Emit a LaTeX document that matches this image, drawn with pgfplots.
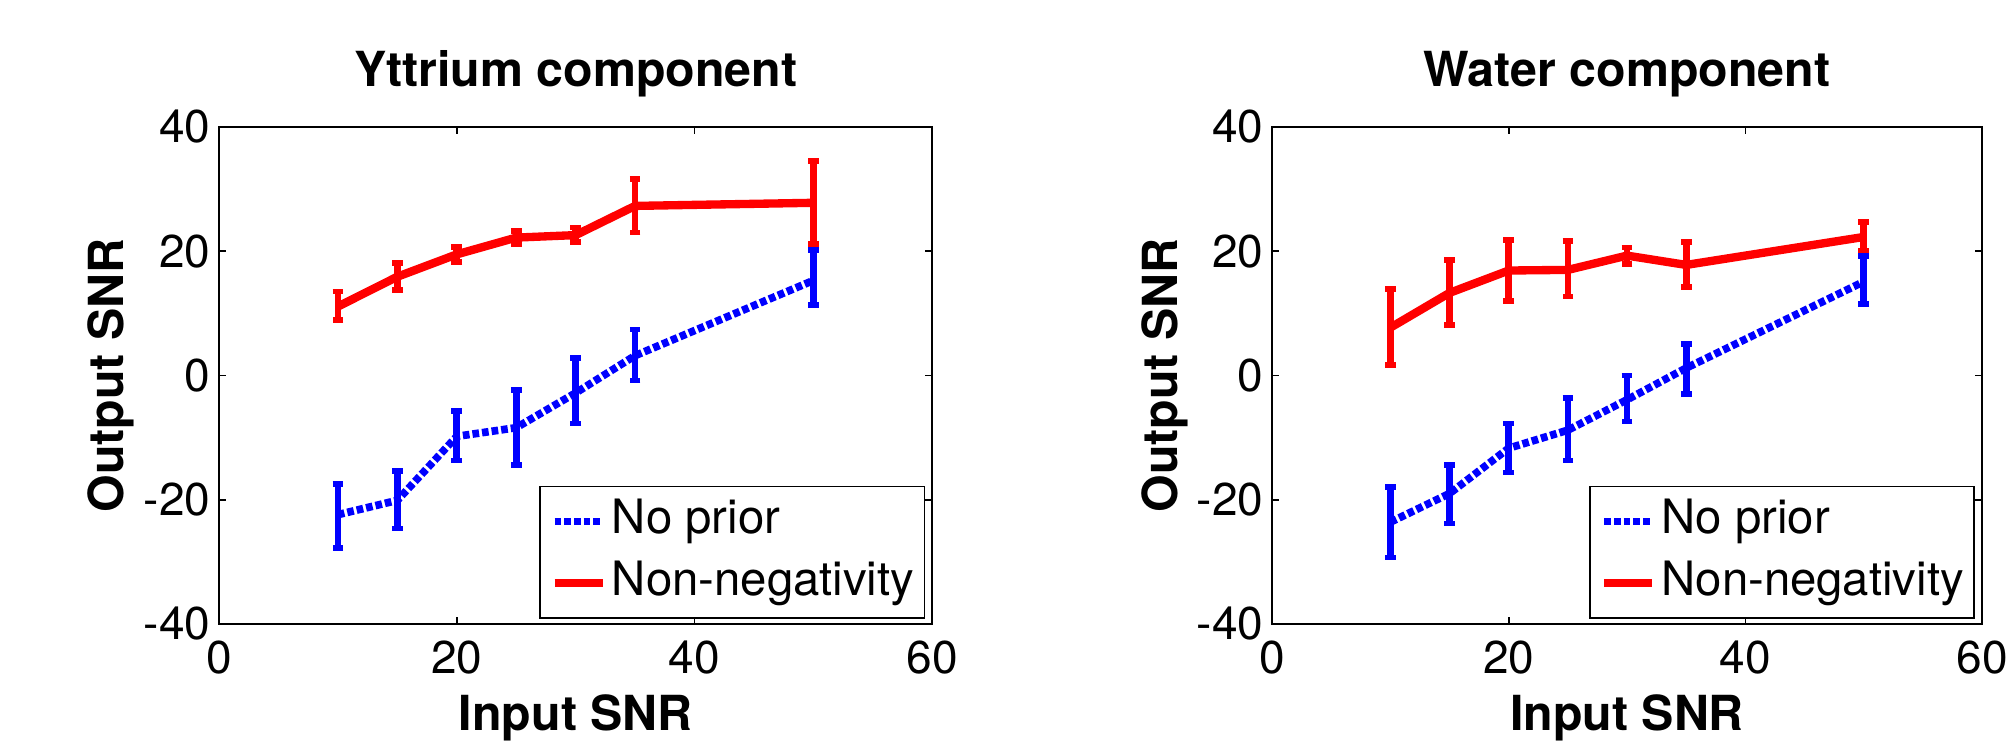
\documentclass[border=0pt]{standalone}
\usepackage{pgfplots}
\pgfplotsset{compat=1.18}
\usepackage{fontspec}
\setmainfont{TeX Gyre Heros}
\definecolor{mred}{RGB}{255,0,0}
\definecolor{mblue}{RGB}{0,0,255}

\pgfplotsset{
  snr/.style={
    scale only axis, width=214pt, height=149.1pt,
    xmin=0, xmax=60, ymin=-40, ymax=40,
    xtick={0,20,40,60}, xticklabels={0,20,40,60},
    ytick={-40,-20,0,20,40}, yticklabels={-40,-20,0,20,40},
    tick align=inside, major tick length=2.1pt,
    axis line style={line width=0.5pt},
    every tick/.style={black, line width=0.5pt},
    tick label style={font=\fontsize{13.8}{16}\selectfont},
    yticklabel style={inner xsep=2.4pt},
    xticklabel style={inner ysep=5pt},
    % cancel the default 6pt title shift
    title style={font=\fontsize{14.5}{17}\bfseries, at={(axis description cs:0.5,1.0812)}, anchor=base, yshift=-6pt},
    xlabel={Input SNR}, ylabel={Output SNR},
    xlabel style={font=\fontsize{14.5}{17}\bfseries, at={(axis description cs:0.5,-0.2133)}, anchor=base},
    ylabel style={font=\fontsize{14.5}{17}\bfseries, at={(axis description cs:-0.1332,0.5)}, anchor=base},
    legend style={at={(axis description cs:1,0)}, anchor=south east, xshift=-2.1pt, yshift=1.6pt,
      draw=black, line width=0.5pt, font=\fontsize{14.2}{17}\selectfont,
      inner xsep=3.1pt, inner ysep=3.2pt, row sep=4pt, column sep=1.5pt,
      nodes={inner sep=0pt, text height=11pt, text depth=3.5pt}},
    legend cell align=left,
    legend image code/.code={\draw[#1] (0pt,0pt) -- (14.4pt,0pt);},
  },
  nop/.style={mblue, line width=2.3pt, dash pattern=on 2pt off 0.9pt, no markers,
    error bars/.cd, y dir=both, y explicit,
    error bar style={line width=2pt, solid},
    error mark options={line width=1.7pt, mark size=1.6pt, rotate=90, solid}},
  nng/.style={mred, line width=2.5pt, no markers,
    error bars/.cd, y dir=both, y explicit,
    error bar style={line width=2pt, solid},
    error mark options={line width=1.7pt, mark size=1.6pt, rotate=90, solid}},
}

\begin{document}
\begin{tikzpicture}[x=1pt,y=1pt]
\begin{axis}[snr, at={(65.7pt,-187.2pt)}, anchor=south west, title={Yttrium component}]
\addplot[nop] coordinates {
  (10,-22.4) += (0,4.9) -= (0,5.4)
  (15,-20.1) += (0,4.7) -= (0,4.5)
  (20,-9.8)  += (0,4.1) -= (0,3.9)
  (25,-8.4)  += (0,6.1) -= (0,6.0)
  (30,-2.8)  += (0,5.6) -= (0,4.9)
  (35,3.2)   += (0,4.2) -= (0,4.0)
  (50,15.3)  += (0,4.9) -= (0,4.0)
};
\addlegendentry{No prior}
\addplot[nng] coordinates {
  (10,11.1) += (0,2.4) -= (0,2.2)
  (15,15.9) += (0,2.2) -= (0,2.1)
  (20,19.5) += (0,1.2) -= (0,1.2)
  (25,22.2) += (0,1.1) -= (0,1.0)
  (30,22.6) += (0,1.2) -= (0,1.1)
  (35,27.3) += (0,4.3) -= (0,4.3)
  (50,27.8) += (0,6.7) -= (0,6.6)
};
\addlegendentry{Non-negativity}
\end{axis}
\begin{axis}[snr, width=213pt, at={(381.6pt,-187.2pt)}, anchor=south west, title={Water component}]
\addplot[nop] coordinates {
  (10,-23.6) += (0,5.7) -= (0,5.7)
  (15,-19.0) += (0,4.6) -= (0,4.8)
  (20,-11.7) += (0,4.0) -= (0,3.9)
  (25,-8.8)  += (0,5.2) -= (0,4.9)
  (30,-3.9)  += (0,3.9) -= (0,3.5)
  (35,1.2)   += (0,3.9) -= (0,4.2)
  (50,15.1)  += (0,4.1) -= (0,3.6)
};
\addlegendentry{No prior}
\addplot[nng] coordinates {
  (10,7.7)  += (0,6.2) -= (0,6.0)
  (15,13.3) += (0,5.3) -= (0,5.2)
  (20,16.9) += (0,4.9) -= (0,4.9)
  (25,17.0) += (0,4.7) -= (0,4.3)
  (30,19.3) += (0,1.3) -= (0,1.4)
  (35,17.8) += (0,3.7) -= (0,3.6)
  (50,22.3) += (0,2.4) -= (0,2.2)
};
\addlegendentry{Non-negativity}
\end{axis}
\pgfresetboundingbox
\path[use as bounding box] (0pt,0pt) rectangle (601.8pt,-222pt);
\end{tikzpicture}
\end{document}
